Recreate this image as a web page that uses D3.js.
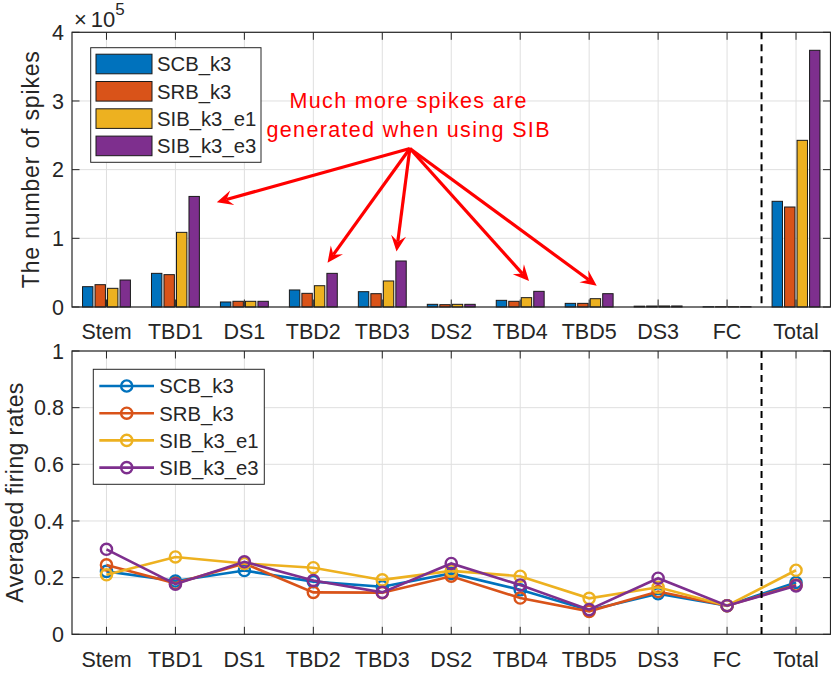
<!DOCTYPE html>
<html><head><meta charset="utf-8">
<script src="https://cdn.jsdelivr.net/npm/d3@7"></script>
<style>body{margin:0;background:#fff}svg{display:block}text{font-family:"Liberation Sans",Arial,Helvetica,sans-serif;fill:#262626}</style>
</head><body><svg id="c" width="831" height="674"></svg>
<script>
const categories = ["Stem","TBD1","DS1","TBD2","TBD3","DS2","TBD4","TBD5","DS3","FC","Total"];
const seriesNames = ["SCB_k3","SRB_k3","SIB_k3_e1","SIB_k3_e3"];
const seriesColors = ["#0072BD","#D95319","#EDB120","#7E2F8E"];
// number of spikes
const spikesSCB = [29600, 49000, 7300, 24800, 22300, 3900, 9700, 5300, 1200, 400, 153900];
const spikesSRB = [32500, 47100, 8300, 19900, 19400, 3400, 8300, 5300, 1400, 400, 145600];
const spikesSIBe1 = [27200,108700, 8300, 31000, 37900, 3900, 13600, 12100, 1500, 400, 242700];
const spikesSIBe3 = [39300,161000, 8300, 49000, 67000, 3900, 22800, 19400, 1500, 400, 373800];
// averaged firing rates
const rateSCB = [0.222, 0.188, 0.225, 0.186, 0.168, 0.215, 0.157, 0.085, 0.143, 0.101, 0.183];
const rateSRB = [0.245, 0.180, 0.250, 0.148, 0.147, 0.205, 0.128, 0.081, 0.151, 0.101, 0.174];
const rateSIBe1 = [0.210, 0.273, 0.250, 0.235, 0.192, 0.224, 0.205, 0.127, 0.166, 0.101, 0.226];
const rateSIBe3 = [0.300, 0.177, 0.256, 0.190, 0.148, 0.250, 0.174, 0.087, 0.198, 0.101, 0.171];
const yTicksTop = [0,100000,200000,300000,400000];
const yTickLabelsTop = ["0","1","2","3","4"];
const yTicksBottom = [0,0.2,0.4,0.6,0.8,1];
const yTickLabelsBottom = ["0","0.2","0.4","0.6","0.8","1"];
const annotationLines = ["Much more spikes are","generated when using SIB"];
// arrow start and tips, in data units (category index, spike count)
const arrowFrom = [5.40, 230800];
const arrowTips = [[2.60,152700],[4.206,64400],[5.206,80700],[7.128,37800],[8.110,31000]];

const spikes = [spikesSCB, spikesSRB, spikesSIBe1, spikesSIBe3];
const rates = [rateSCB, rateSRB, rateSIBe1, rateSIBe3];

const svg = d3.select("#c");
const L = 72, R = 830.5;
const top1 = 32.3, bot1 = 307, top2 = 351, bot2 = 634.3;
const axisColor = "#262626", gridColor = "#dfdfdf";
const fs = 21.5;

const x = d3.scaleLinear().domain([0.5, 11.5]).range([L, R]);
const y1 = d3.scaleLinear().domain([0, 400000]).range([bot1, top1]);
const y2 = d3.scaleLinear().domain([0, 1]).range([bot2, top2]);
const unit = x(2) - x(1);
const inner = d3.scaleBand().domain(seriesNames).range([-0.3625*unit, 0.3625*unit]).paddingInner(0.168).paddingOuter(0.084);

function frame(y, ticks, top, bot){
  const g = svg.append("g");
  g.selectAll(".gy").data(ticks).join("line").attr("x1",L).attr("x2",R)
    .attr("y1",d=>y(d)).attr("y2",d=>y(d)).attr("stroke",gridColor).attr("stroke-width",1);
  g.selectAll(".gx").data(categories).join("line").attr("x1",(d,i)=>x(i+1)).attr("x2",(d,i)=>x(i+1))
    .attr("y1",top).attr("y2",bot).attr("stroke",gridColor).attr("stroke-width",1);
  return g;
}
function axes(y, ticks, labels, top, bot, labelY){
  const g = svg.append("g");
  const tl = 7.5;
  ticks.forEach((t,k)=>{
    g.append("line").attr("x1",L).attr("x2",L+tl).attr("y1",y(t)).attr("y2",y(t)).attr("stroke",axisColor);
    g.append("line").attr("x1",R).attr("x2",R-tl).attr("y1",y(t)).attr("y2",y(t)).attr("stroke",axisColor);
    g.append("text").attr("x",64).attr("y",y(t)).attr("dy","0.36em").attr("text-anchor","end")
      .attr("font-size",fs).text(labels[k]);
  });
  categories.forEach((c,i)=>{
    const xx = x(i+1);
    g.append("line").attr("x1",xx).attr("x2",xx).attr("y1",bot).attr("y2",bot-tl).attr("stroke",axisColor);
    g.append("line").attr("x1",xx).attr("x2",xx).attr("y1",top).attr("y2",top+tl).attr("stroke",axisColor);
    g.append("text").attr("x",xx).attr("y",labelY).attr("text-anchor","middle").attr("font-size",fs).text(c);
  });
  g.append("rect").attr("x",L).attr("y",top).attr("width",R-L).attr("height",bot-top)
    .attr("fill","none").attr("stroke",axisColor).attr("stroke-width",1.2);
  g.append("line").attr("x1",x(10.5)).attr("x2",x(10.5)).attr("y1",top).attr("y2",bot)
    .attr("stroke","#000").attr("stroke-width",2).attr("stroke-dasharray","7,5");
}

// ---------- top panel ----------
frame(y1, yTicksTop, top1, bot1);
const barG = svg.append("g");
spikes.forEach((vals, s)=>{
  barG.selectAll(null).data(vals).join("rect")
    .attr("x",(d,i)=>x(i+1)+inner(seriesNames[s]))
    .attr("width",inner.bandwidth())
    .attr("y",d=>y1(d)).attr("height",d=>bot1-y1(d))
    .attr("fill",seriesColors[s]).attr("stroke","#1a1a1a").attr("stroke-width",1);
});
axes(y1, yTicksTop, yTickLabelsTop, top1, bot1, 339);
// exponent (single text element)
const ex = svg.append("text").attr("x",74).attr("y",26.5).attr("font-size",22);
ex.append("tspan").text("×");
ex.append("tspan").attr("dx",4).text("10");
ex.append("tspan").attr("dy",-12).attr("font-size",17).text("5");
// ylabel
svg.append("text").attr("transform",`translate(39,${(top1+bot1)/2}) rotate(-90)`)
  .attr("text-anchor","middle").attr("font-size",23).attr("textLength",237).attr("lengthAdjust","spacing")
  .text("The number of spikes");

// legend top
const lg1 = svg.append("g");
lg1.append("rect").attr("x",90.7).attr("y",47.7).attr("width",170.3).attr("height",114.6)
  .attr("fill","#fff").attr("stroke",axisColor).attr("stroke-width",1);
seriesNames.forEach((n,i)=>{
  const cy = 64 + i*27.3;
  lg1.append("rect").attr("x",96).attr("y",cy-9.8).attr("width",56).attr("height",19.6)
    .attr("fill",seriesColors[i]).attr("stroke","#1a1a1a").attr("stroke-width",1);
  lg1.append("text").attr("x",157).attr("y",cy).attr("dy","0.36em").attr("font-size",20.3).text(n);
});

// annotation
const ann = svg.append("g");
annotationLines.forEach((t,i)=>{
  ann.append("text").attr("x",408).attr("y",107.5+i*29.5).attr("text-anchor","middle")
    .attr("font-size",21.5).style("fill","#ff0000")
    .attr("textLength", i===0?237:283).attr("lengthAdjust","spacing").text(t);
});
const ox = x(arrowFrom[0]), oy = y1(arrowFrom[1]);
arrowTips.forEach(tp=>{
  const tx = x(tp[0]), ty = y1(tp[1]);
  const dx = tx-ox, dy = ty-oy, len = Math.hypot(dx,dy);
  const ux = dx/len, uy = dy/len, px = -uy, py = ux;
  const hl = 16, hw = 7.5, notch = 10;
  ann.append("line").attr("x1",ox).attr("y1",oy).attr("x2",tx-ux*notch).attr("y2",ty-uy*notch)
    .attr("stroke","#ff0000").attr("stroke-width",3.2);
  const pts = [[tx,ty],[tx-ux*hl+px*hw, ty-uy*hl+py*hw],[tx-ux*notch, ty-uy*notch],[tx-ux*hl-px*hw, ty-uy*hl-py*hw]];
  ann.append("polygon").attr("points",pts.map(p=>p.join(",")).join(" ")).attr("fill","#ff0000");
});

// ---------- bottom panel ----------
frame(y2, yTicksBottom, top2, bot2);
const line = d3.line().x((d,i)=>x(i+1)).y(d=>y2(d));
rates.forEach((vals,s)=>{
  const g = svg.append("g");
  g.append("path").datum(vals).attr("d",line).attr("fill","none")
    .attr("stroke",seriesColors[s]).attr("stroke-width",2.6);
  g.selectAll("circle").data(vals).join("circle").attr("cx",(d,i)=>x(i+1)).attr("cy",d=>y2(d))
    .attr("r",5.6).attr("fill","none").attr("stroke",seriesColors[s]).attr("stroke-width",2.4);
});
axes(y2, yTicksBottom, yTickLabelsBottom, top2, bot2, 666.5);
svg.append("text").attr("transform",`translate(22.5,${(top2+bot2)/2}) rotate(-90)`)
  .attr("text-anchor","middle").attr("font-size",23).attr("textLength",220).attr("lengthAdjust","spacing")
  .text("Averaged firing rates");

// legend bottom
const lg2 = svg.append("g");
lg2.append("rect").attr("x",93.3).attr("y",369.3).attr("width",171).attr("height",115)
  .attr("fill","#fff").attr("stroke",axisColor).attr("stroke-width",1);
seriesNames.forEach((n,i)=>{
  const cy = 386 + i*27.2;
  lg2.append("line").attr("x1",99.3).attr("x2",154).attr("y1",cy).attr("y2",cy)
    .attr("stroke",seriesColors[i]).attr("stroke-width",2.6);
  lg2.append("circle").attr("cx",126.7).attr("cy",cy).attr("r",5.6).attr("fill","none")
    .attr("stroke",seriesColors[i]).attr("stroke-width",2.4);
  lg2.append("text").attr("x",159.3).attr("y",cy).attr("dy","0.36em").attr("font-size",20.3).text(n);
});
</script></body></html>
